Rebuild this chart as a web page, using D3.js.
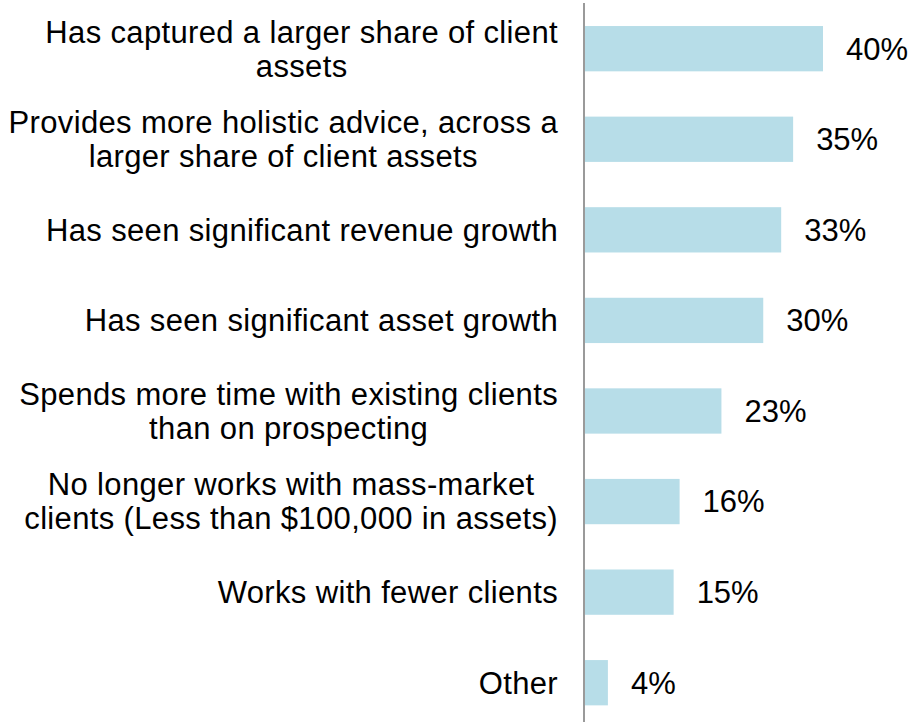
<!DOCTYPE html>
<html>
<head>
<meta charset="utf-8">
<script src="https://cdn.jsdelivr.net/npm/d3@7"></script>
<style>
  html, body { margin: 0; padding: 0; background: #fff; }
  svg { display: block; }
  text { font-family: "Liberation Sans", Arial, sans-serif; fill: #000; }
</style>
</head>
<body>
<svg id="chart" width="913" height="722"></svg>
<script>
const categories = [
  "Has captured a larger share of client assets",
  "Provides more holistic advice, across a larger share of client assets",
  "Has seen significant revenue growth",
  "Has seen significant asset growth",
  "Spends more time with existing clients than on prospecting",
  "No longer works with mass-market clients (Less than $100,000 in assets)",
  "Works with fewer clients",
  "Other"
];
const labelLines = [
  ["Has captured a larger share of client", "assets"],
  ["Provides more holistic advice, across a", "larger share of client assets"],
  ["Has seen significant revenue growth"],
  ["Has seen significant asset growth"],
  ["Spends more time with existing clients", "than on prospecting"],
  ["No longer works with mass-market", "clients (Less than $100,000 in assets)"],
  ["Works with fewer clients"],
  ["Other"]
];
const values = [40, 35, 33, 30, 23, 16, 15, 4];

const svg = d3.select("#chart");
const axisX = 584;
const x = d3.scaleLinear().domain([0, 40]).range([axisX, 823]);
const y = d3.scaleBand().domain(categories).range([3.4, 728]).paddingInner(0.5).paddingOuter(0.25);

const labelSize = 31;
const valueSize = 31;
const lineH = 34;
const labelRight = 558;

// bars
svg.selectAll("rect.bar").data(values).join("rect")
  .attr("class", "bar")
  .attr("x", axisX)
  .attr("y", (d, i) => y(categories[i]))
  .attr("width", d => x(d) - axisX)
  .attr("height", y.bandwidth())
  .attr("fill", "#b7dde8");

// axis line
svg.append("line")
  .attr("x1", axisX).attr("x2", axisX)
  .attr("y1", 3).attr("y2", 722)
  .attr("stroke", "#9a9a9a").attr("stroke-width", 2);

// value labels
svg.selectAll("text.val").data(values).join("text")
  .attr("class", "val")
  .attr("x", d => x(d) + 23)
  .attr("y", (d, i) => y(categories[i]) + y.bandwidth() / 2)
  .attr("dy", "0.35em")
  .style("font-size", valueSize + "px")
  .text(d => d + "%");

// category labels
labelLines.forEach((lines, i) => {
  const cy = y(categories[i]) + y.bandwidth() / 2;
  const g = svg.append("g");
  const texts = lines.map((ln, j) => g.append("text")
    .attr("y", cy + (j - (lines.length - 1) / 2) * lineH)
    .attr("dy", "0.35em")
    .attr("text-anchor", "middle")
    .style("font-size", labelSize + "px")
    .style("letter-spacing", "0.35px")
    .text(ln));
  const w = d3.max(texts, t => t.node().getComputedTextLength());
  texts.forEach(t => t.attr("x", labelRight - w / 2));
});
</script>
</body>
</html>
